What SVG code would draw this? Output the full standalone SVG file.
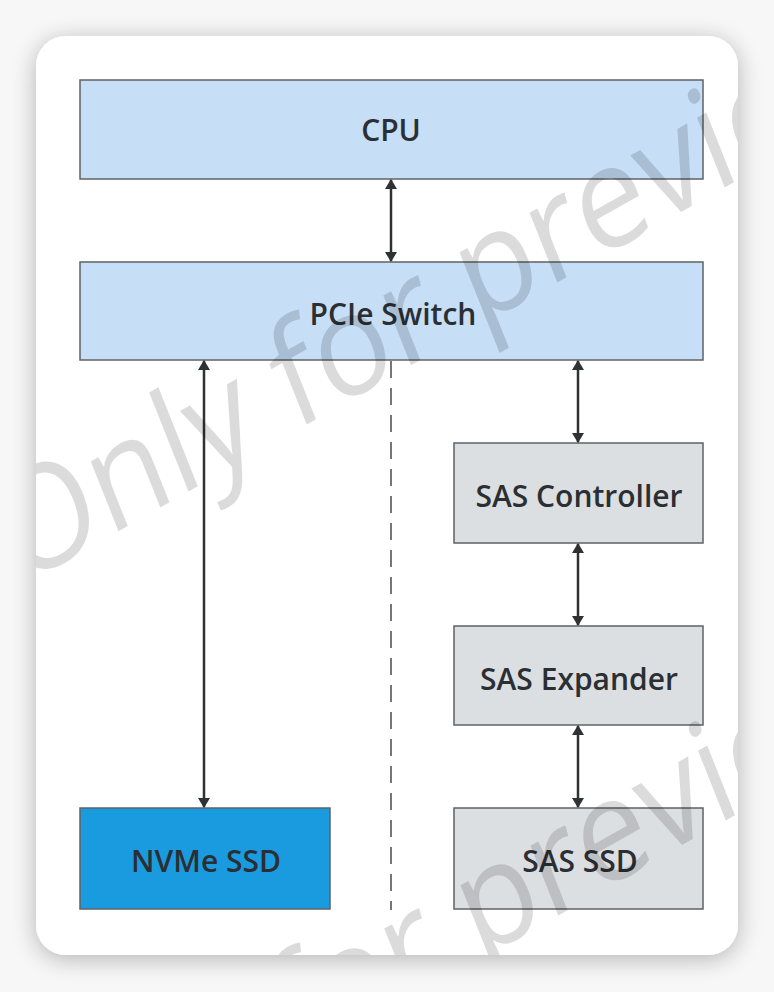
<svg xmlns="http://www.w3.org/2000/svg" width="774" height="992" viewBox="0 0 774 992">
  <defs>
    <filter id="shadow" x="-10%" y="-10%" width="120%" height="120%">
      <feGaussianBlur in="SourceAlpha" stdDeviation="12"/>
      <feOffset dx="0" dy="4" result="b"/>
      <feComponentTransfer><feFuncA type="linear" slope="0.28"/></feComponentTransfer>
      <feMerge><feMergeNode/><feMergeNode in="SourceGraphic"/></feMerge>
    </filter>
    <clipPath id="cardclip">
      <rect x="36" y="36" width="702" height="919" rx="30" ry="30"/>
    </clipPath>
    <marker id="ah" viewBox="0 0 10 16" refX="9" refY="8" markerWidth="10" markerHeight="16" markerUnits="userSpaceOnUse" orient="auto-start-reverse">
      <path d="M0,2 L10,8 L0,14 Z" fill="#2f3133"/>
    </marker>
    <style>
      .box { stroke: #5f6366; stroke-width: 1.5; }
      .blue { fill: #c6def6; }
      .gray { fill: #dcdfe2; }
      .nvme { fill: #1a9be0; }
      .lbl { font-family: "Open Sans", "Liberation Sans", sans-serif; font-weight: 600; font-size: 30px; fill: #2b2f33; text-anchor: middle; }
      .link { stroke: #2f3133; stroke-width: 2.5; fill: none; marker-start: url(#ah); marker-end: url(#ah); }
      .dash { stroke: #555; stroke-width: 1.6; stroke-dasharray: 17 10; fill: none; }
      .wm { font-family: "Open Sans", "Liberation Sans", sans-serif; font-size: 140px; fill: #000; fill-opacity: 0.14; }
    </style>
  </defs>

  <rect x="0" y="0" width="774" height="992" fill="#f7f7f7"/>
  <rect x="36" y="36" width="702" height="919" rx="30" ry="30" fill="#ffffff" filter="url(#shadow)"/>

  <g id="cpu">
    <rect class="box blue" x="80" y="80" width="623" height="99"/>
    <text class="lbl" x="391" y="141">CPU</text>
  </g>
  <g id="pcie-switch">
    <rect class="box blue" x="80" y="262" width="623" height="98"/>
    <text class="lbl" x="393" y="325">PCIe Switch</text>
  </g>
  <g id="sas-controller">
    <rect class="box gray" x="454" y="443" width="249" height="100"/>
    <text class="lbl" x="579" y="507">SAS Controller</text>
  </g>
  <g id="sas-expander">
    <rect class="box gray" x="454" y="626" width="249" height="99"/>
    <text class="lbl" x="579" y="690">SAS Expander</text>
  </g>
  <g id="nvme-ssd">
    <rect class="box nvme" x="80" y="808" width="250" height="101"/>
    <text class="lbl" x="206" y="872">NVMe SSD</text>
  </g>
  <g id="sas-ssd">
    <rect class="box gray" x="454" y="808" width="249" height="101"/>
    <text class="lbl" x="580" y="872">SAS SSD</text>
  </g>

  <g id="connectors">
    <line class="link" x1="391" y1="180" x2="391" y2="261"/>
    <line class="link" x1="204" y1="361" x2="204" y2="807"/>
    <line class="link" x1="578" y1="361" x2="578" y2="442"/>
    <line class="link" x1="578" y1="544" x2="578" y2="625"/>
    <line class="link" x1="578" y1="726" x2="578" y2="807"/>
    <line class="dash" x1="391" y1="361" x2="391" y2="910"/>
  </g>

  <g id="watermark" clip-path="url(#cardclip)">
    <text class="wm" transform="matrix(0.815,-0.462,0.37,0.93,20,587)">Only for preview</text>
    <text class="wm" transform="matrix(0.815,-0.462,0.37,0.93,21,1220)">Only for preview</text>
  </g>
</svg>
